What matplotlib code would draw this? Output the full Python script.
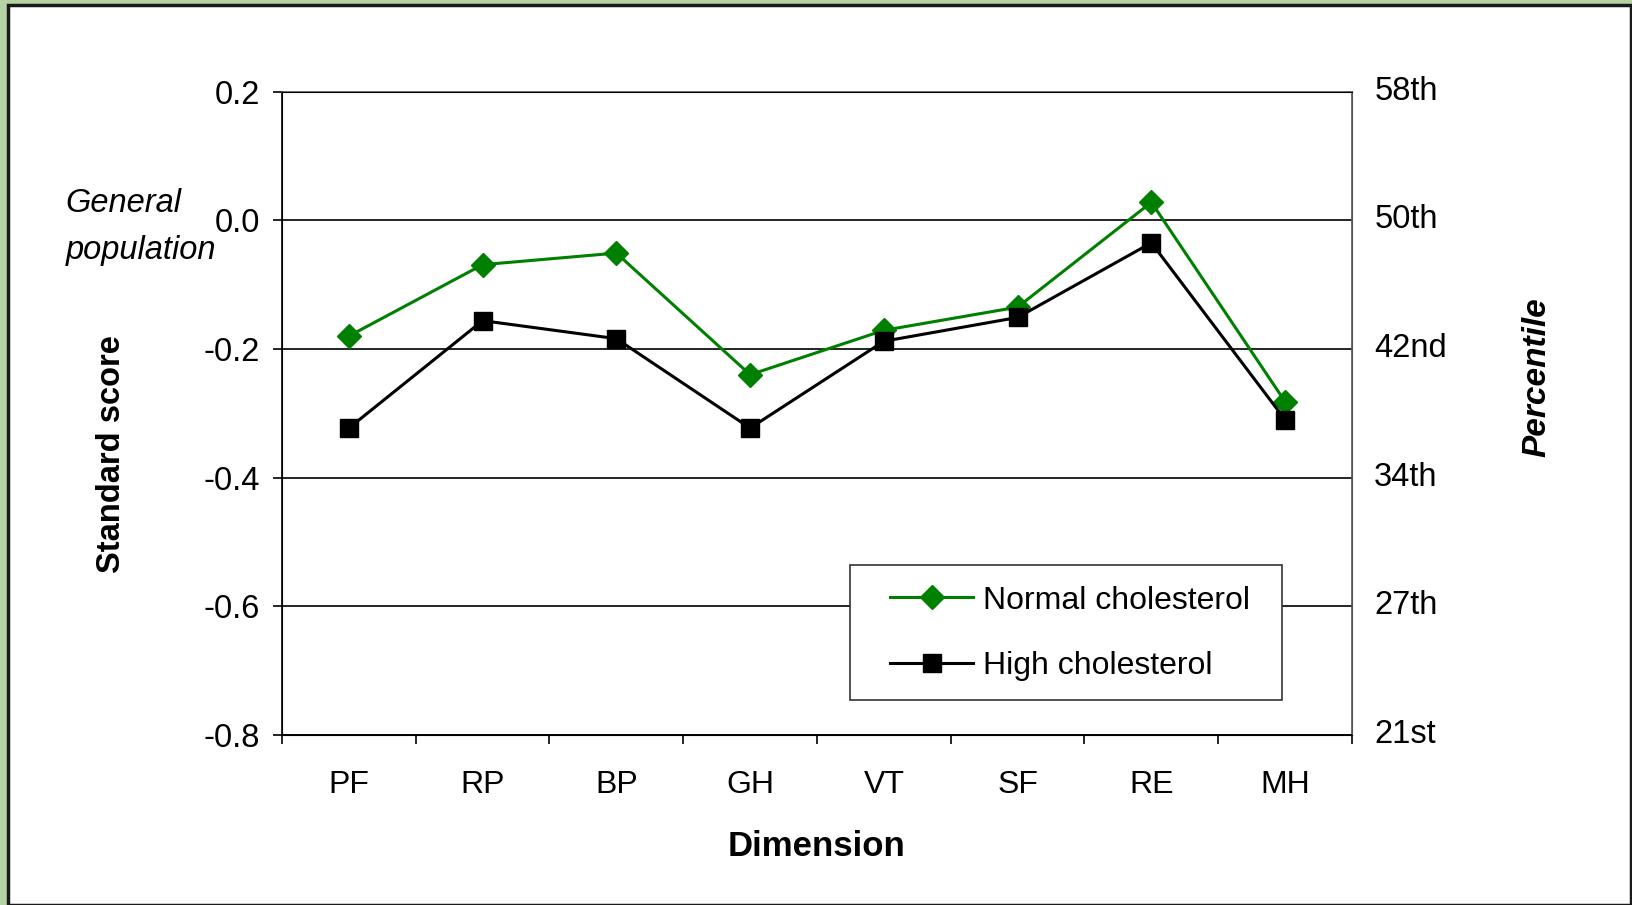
import numpy as np
import matplotlib.pyplot as plt
import matplotlib
from matplotlib.patches import Rectangle
from matplotlib.transforms import ScaledTranslation

matplotlib.rcParams['font.family'] = ['Liberation Sans', 'DejaVu Sans']

dimensions = ['PF', 'RP', 'BP', 'GH', 'VT', 'SF', 'RE', 'MH']
normal_chol = [-0.180, -0.069, -0.051, -0.240, -0.171, -0.135, 0.028, -0.282]
high_chol = [-0.323, -0.156, -0.184, -0.323, -0.188, -0.151, -0.035, -0.310]
y_ticks = [0.2, 0.0, -0.2, -0.4, -0.6, -0.8]
pct_labels = ['58th', '50th', '42nd', '34th', '27th', '21st']

fig = plt.figure(figsize=(16.33, 9.05), dpi=100, facecolor='#b7d3a5')
# white panel over the green background
fig.patches.append(Rectangle((8 / 1633, 0), 1623 / 1633, 1 - 5 / 905,
                             transform=fig.transFigure, facecolor='white',
                             edgecolor='#1a1a1a', linewidth=2.5, zorder=-10))

ax = fig.add_axes([282 / 1633, 1 - 735 / 905, 1070 / 1633, (735 - 91.6) / 905])
x = np.arange(len(dimensions))
ax.plot(x, normal_chol, color='#008000', marker='D', markersize=12, linewidth=2.2,
        label='Normal cholesterol', zorder=3)
ax.plot(x, high_chol, color='black', marker='s', markersize=13, linewidth=2.2,
        label='High cholesterol', zorder=3)

ax.set_xlim(-0.5, len(dimensions) - 0.5)
ax.set_ylim(-0.8, 0.2)
ax.set_yticks(y_ticks)
ax.set_yticklabels(['%.1f' % v for v in y_ticks], fontsize=23.5)
ax.set_xticks(np.arange(len(dimensions) + 1) - 0.5)
ax.set_xticklabels([])
ax.set_xticks(x, minor=True)
ax.set_xticklabels(dimensions, minor=True, fontsize=23)
ax.tick_params(axis='x', which='minor', length=0, pad=25)
ax.tick_params(axis='x', which='major', length=6.5, width=1.2, direction='out')
ax.tick_params(axis='y', length=6.5, width=1.2, direction='out', pad=9.5)
ax.grid(axis='y', color='black', linewidth=1.2)
for s in ['top', 'right']:
    ax.spines[s].set_color('#555555')
    ax.spines[s].set_linewidth(1.2)
for s in ['left', 'bottom']:
    ax.spines[s].set_linewidth(1.2)

ax2 = ax.twinx()
ax2.set_ylim(-0.8, 0.2)
ax2.set_yticks(y_ticks)
ax2.set_yticklabels(pct_labels, fontsize=23.5)
ax2.tick_params(axis='y', length=0, pad=16)
ax2.spines['right'].set_color('#555555')
for lab in ax2.get_yticklabels():
    lab.set_transform(lab.get_transform() + ScaledTranslation(0, 4 / 100, fig.dpi_scale_trans))

ax.set_xlabel('Dimension', fontsize=25, fontweight='bold', labelpad=22)
fig.text(107 * 1.0415 / 1633, 1 - 436 * 1.0415 / 905, 'Standard score',
         rotation=90, fontsize=23.5, fontweight='bold', ha='center', va='center')
fig.text(1476 * 1.0415 / 1633, 1 - 362 * 1.0415 / 905, 'Percentile', rotation=90,
         fontsize=24, fontweight='bold', style='italic', ha='center', va='center')
fig.text(63 * 1.0415 / 1633, 1 - 218 * 1.0415 / 905, 'General\npopulation',
         fontsize=23.5, style='italic', ha='left', va='center', linespacing=1.7)

# legend box drawn separately so its padding can match
ax.add_patch(Rectangle((0.5307, 0.055), 0.9348 - 0.5307, 0.2638 - 0.055,
                       transform=ax.transAxes, facecolor='white',
                       edgecolor='#333333', linewidth=1.2, zorder=4))
leg = ax.legend(loc='upper left', bbox_to_anchor=(0.5686, 0.2322), fontsize=23,
                frameon=False, borderpad=0, labelspacing=1.1, handlelength=2.6,
                handletextpad=0.3, borderaxespad=0)
leg.set_zorder(5)

plt.savefig('out.png', dpi=100, facecolor=fig.get_facecolor())
